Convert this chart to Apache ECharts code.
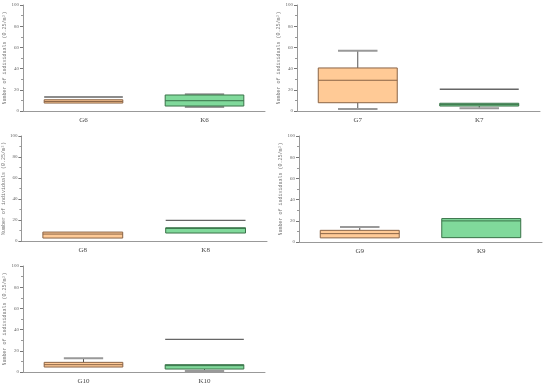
<!DOCTYPE html>
<html><head><meta charset="utf-8">
<script src="https://cdn.jsdelivr.net/npm/echarts@6/dist/echarts.min.js"></script>
<style>html,body{margin:0;padding:0;background:#fff}#c{width:550px;height:387px}</style>
</head><body><div id="c"></div>
<script>
// Data (one entry per panel, two categories each)
const categories = [['G6','K6'],['G7','K7'],['G8','K8'],['G9','K9'],['G10','K10']];
const lowWhisker = [[null,3.8],[1.9,2.5],[null,null],[null,null],[null,0.9]];
const q1 = [[7.5,4.7],[7.8,4.7],[2.8,7.6],[3.9,4.1],[4.7,2.8]];
const median = [[9.0,9.7],[29.0,6.0],[6.6,12.0],[7.9,19.9],[6.9,6.0]];
const q3 = [[10.6,15.1],[40.6,7.3],[8.5,12.6],[11.0,22.1],[9.1,6.9]];
const highWhisker = [[null,15.7],[56.9,null],[null,null],[14.2,null],[12.9,null]];
const refLine = [[13.2,null],[null,20.5],[null,19.6],[null,null],[null,30.8]];
const yTicks = [0,20,40,60,80,100];

const grids = [
  {left:23, top:5, width:242, height:106},
  {left:297, top:5, width:243, height:106},
  {left:21, top:136, width:246, height:105},
  {left:299, top:136, width:243, height:106},
  {left:23, top:266, width:242, height:106}
];
const fills = ['#FFCA96','#80D99B'];
const borders = ['#8A6446','#3A7349'];

const chart = echarts.init(document.getElementById('c'));
const xAxes = [], yAxes = [], series = [];
grids.forEach((g,p)=>{
  xAxes.push({type:'category', gridIndex:p, data:categories[p], boundaryGap:true,
    axisLine:{lineStyle:{color:'#999',width:1}},
    axisTick:{alignWithLabel:true, length:3, lineStyle:{color:'#777'}},
    axisLabel:{fontFamily:'Liberation Serif', fontSize:7, color:'#444', margin:6}});
  yAxes.push({type:'value', gridIndex:p, min:0, max:100, interval:20,
    name:'Number of individuals (0.25/m²)', nameLocation:'middle', nameGap:11,
    nameTextStyle:{fontFamily:'Liberation Mono', fontSize:5, color:'#777'},
    axisLine:{show:true, lineStyle:{color:'#999'}},
    axisTick:{show:true, length:3, lineStyle:{color:'#777'}},
    minorTick:{show:true, splitNumber:2, length:2, lineStyle:{color:'#999'}},
    splitLine:{show:false},
    axisLabel:{fontFamily:'Liberation Serif', fontSize:5, color:'#666', margin:4,
      formatter:v=> yTicks.indexOf(v)>=0 ? String(v) : ''}});
  series.push({type:'custom', xAxisIndex:p, yAxisIndex:p,
    data: categories[p].map((c,i)=>[i, q1[p][i], median[p][i], q3[p][i]]),
    renderItem:(params, api)=>{
      const i = api.value(0);
      const band = api.size([1,0])[0];
      const bw = band*0.65, cw = bw*0.5;
      const cx = api.coord([i,0])[0];
      const y = v=>api.coord([i,v])[1];
      const ch = [];
      const lo = lowWhisker[p][i], hi = highWhisker[p][i], rf = refLine[p][i];
      if (lo!=null){
        ch.push({type:'line', shape:{x1:cx,y1:y(q1[p][i]),x2:cx,y2:y(lo)}, style:{stroke:'#555',lineWidth:1}});
        ch.push({type:'line', shape:{x1:cx-cw/2,y1:y(lo),x2:cx+cw/2,y2:y(lo)}, style:{stroke:'#999',lineWidth:2}});
      }
      if (hi!=null){
        ch.push({type:'line', shape:{x1:cx,y1:y(q3[p][i]),x2:cx,y2:y(hi)}, style:{stroke:'#555',lineWidth:1}});
        ch.push({type:'line', shape:{x1:cx-cw/2,y1:y(hi),x2:cx+cw/2,y2:y(hi)}, style:{stroke:'#999',lineWidth:2}});
      }
      if (rf!=null){
        ch.push({type:'line', shape:{x1:cx-bw/2,y1:y(rf),x2:cx+bw/2,y2:y(rf)}, style:{stroke:'#666',lineWidth:1.3}});
      }
      const yt = y(q3[p][i]), yb = y(q1[p][i]);
      ch.push({type:'rect', shape:{x:cx-bw/2, y:yt, width:bw, height:yb-yt},
        style:{fill:fills[i], stroke:borders[i], lineWidth:1}});
      ch.push({type:'line', shape:{x1:cx-bw/2,y1:y(median[p][i]),x2:cx+bw/2,y2:y(median[p][i])},
        style:{stroke:borders[i], lineWidth:1}});
      return {type:'group', children:ch};
    }});
});
chart.setOption({animation:false, grid:grids, xAxis:xAxes, yAxis:yAxes, series:series});
</script></body></html>
